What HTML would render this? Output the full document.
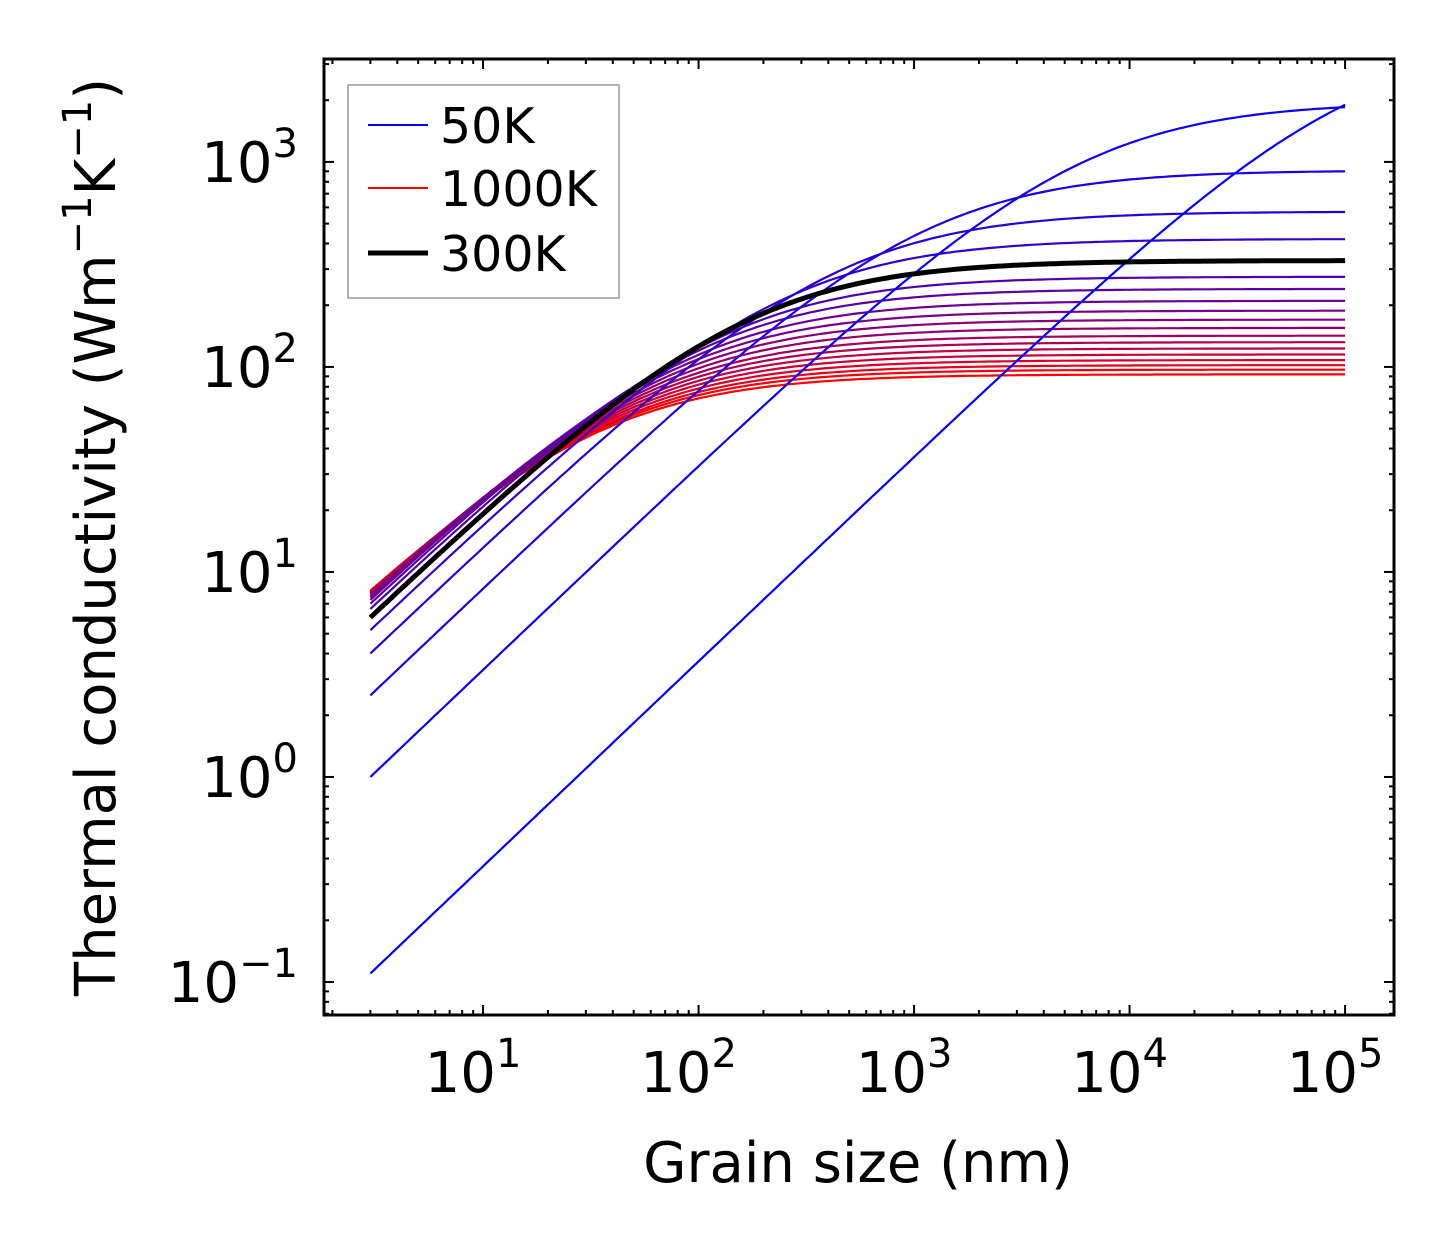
<!DOCTYPE html>
<html><head><meta charset="utf-8"><style>
body{margin:0;background:#fff}
svg{display:block;font-family:"DejaVu Sans","Liberation Sans",sans-serif}
</style></head><body>
<svg id="chart" width="1454" height="1254" viewBox="0 0 1454 1254" xmlns="http://www.w3.org/2000/svg">
<rect width="1454" height="1254" fill="#fff"/>
<g id="curves"></g>
<g id="ticks"></g>
<rect x="324" y="59" width="1070" height="956" fill="none" stroke="#000" stroke-width="3"/>
<g id="labels" font-size="56" fill="#000"></g>
<text x="858" y="1182" font-size="56" text-anchor="middle">Grain size (nm)</text>
<text transform="translate(115,537) rotate(-90)" font-size="56" text-anchor="middle">Thermal conductivity (Wm<tspan dy="-24" font-size="40">−1</tspan><tspan dy="24">K</tspan><tspan dy="-24" font-size="40">−1</tspan><tspan dy="24">)</tspan></text>
<g>
<rect x="348" y="85" width="271" height="213" fill="#fff" stroke="#999" stroke-width="1.5"/>
<line x1="368" y1="125" x2="428" y2="125" stroke="#0000ff" stroke-width="2"/>
<text x="440" y="143" font-size="49">50K</text>
<line x1="368" y1="188" x2="428" y2="188" stroke="#ff0000" stroke-width="2"/>
<text x="440" y="206" font-size="49">1000K</text>
<line x1="368" y1="253" x2="428" y2="253" stroke="#000" stroke-width="5"/>
<text x="440" y="271" font-size="49">300K</text>
</g>
</svg>
<script>
const temperatures=[50,100,150,200,250,300,350,400,450,500,550,600,650,700,750,800,850,900,950,1000];
const kAtMinGrain=[0.11,1.0,2.5,4.0,5.2,6.0,6.6,7.0,7.3,7.5,7.6,7.7,7.8,7.85,7.9,7.95,8.0,8.0,8.05,8.1];
const kAtMaxGrain=[1900,1850,900,570,420,330,275,240,210,188,170,155,142,132,123,115,108,102,97,92];
const grainRange=[3,1e5];
const xTickExps=[1,2,3,4,5];
const yTickExps=[-1,0,1,2,3];

const NS="http://www.w3.org/2000/svg";
const X0=324,X1=1394,Y0=59,Y1=1015;
const xl0=0.262,xl1=5.227,yl0=-1.161,yl1=3.502;
const xs=v=>X0+(Math.log10(v)-xl0)/(xl1-xl0)*(X1-X0);
const ys=v=>Y1-(Math.log10(v)-yl0)/(yl1-yl0)*(Y1-Y0);
function mk(t,attrs,parent){const e=document.createElementNS(NS,t);for(const k in attrs)e.setAttribute(k,attrs[k]);parent.appendChild(e);return e;}

const curves=document.getElementById('curves');
function curvePath(i){
  const L0=grainRange[0],L1=grainRange[1];
  const s=kAtMinGrain[i],e=kAtMaxGrain[i];
  const b=(1/s-1/e)/(1/L0-1/L1), a=1/e-b/L1;
  let d='';
  for(let j=0;j<=200;j++){
    const L=Math.pow(10,Math.log10(L0)+(Math.log10(L1)-Math.log10(L0))*j/200);
    const k=1/(a+b/L);
    d+=(j?'L':'M')+xs(L).toFixed(1)+' '+ys(k).toFixed(1);
  }
  return d;
}
const n=temperatures.length;
for(let i=n-1;i>=0;i--){
  const f=i/(n-1);
  const p=mk('path',{d:curvePath(i),fill:'none',stroke:`rgb(${Math.round(255*f)},0,${Math.round(255*(1-f))})`,'stroke-width':2.2},curves);
  
  
}
const bi=temperatures.indexOf(300);
const bp=mk('path',{d:curvePath(bi),fill:'none',stroke:'#000','stroke-width':5},curves);



const ticks=document.getElementById('ticks');
const labels=document.getElementById('labels');
for(let e=0;e<=5;e++){
  for(let m=1;m<10;m++){
    const v=m*Math.pow(10,e);const x=xs(v);
    if(x<X0||x>X1)continue;
    const len=m===1?10:5;
    mk('line',{x1:x,x2:x,y1:Y1,y2:Y1-len,stroke:'#000','stroke-width':2},ticks);
    mk('line',{x1:x,x2:x,y1:Y0,y2:Y0+len,stroke:'#000','stroke-width':2},ticks);
  }
}
for(let e=-2;e<=3;e++){
  for(let m=1;m<10;m++){
    const v=m*Math.pow(10,e);const y=ys(v);
    if(y<Y0||y>Y1)continue;
    const len=m===1?10:5;
    mk('line',{x1:X0,x2:X0+len,y1:y,y2:y,stroke:'#000','stroke-width':2},ticks);
    mk('line',{x1:X1,x2:X1-len,y1:y,y2:y,stroke:'#000','stroke-width':2},ticks);
  }
}
xTickExps.forEach(e=>{
  const t=mk('text',{x:xs(Math.pow(10,e))-10,y:1092,'text-anchor':'middle'},labels);
  
  
  t.innerHTML='10<tspan dy="-25" font-size="40">'+e+'</tspan>';
});
yTickExps.forEach(e=>{
  const t=mk('text',{x:298,y:ys(Math.pow(10,e))+20,'text-anchor':'end'},labels);
  
  
  t.innerHTML='10<tspan dy="-25" font-size="40">'+(e<0?'−'+(-e):e)+'</tspan>';
});
</script>
</body></html>
